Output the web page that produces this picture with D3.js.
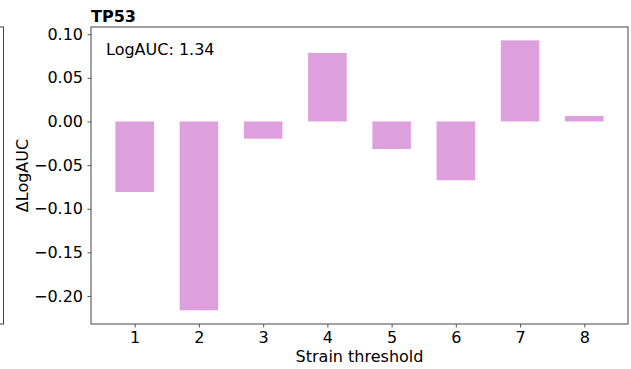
<!DOCTYPE html>
<html>
<head>
<meta charset="utf-8">
<script src="https://cdn.jsdelivr.net/npm/d3@7"></script>
<style>
  html, body { margin: 0; padding: 0; background: #fff; }
  svg { display: block; font-family: "DejaVu Sans", sans-serif; }
</style>
</head>
<body>
<svg id="chart" width="631" height="369"></svg>
<script>
// Change in LogAUC for each strain threshold (TP53)
const thresholds = [1, 2, 3, 4, 5, 6, 7, 8];
const deltaLogAUC = [-0.0808, -0.2164, -0.0197, 0.0785, -0.0315, -0.0674, 0.0930, 0.0063];
const yTicks = [-0.20, -0.15, -0.10, -0.05, 0.00, 0.05, 0.10];
const title = "TP53";
const annotation = "LogAUC: 1.34";

const svg = d3.select("#chart");
const plotLeft = 91, plotRight = 628, plotTop = 27, plotBottom = 324;
const barWidth = 0.6;
const fontSize = 16;

const x = d3.scaleLinear().domain([0.32, 8.68]).range([plotLeft, plotRight]);
const y = d3.scaleLinear().domain([-0.2321, 0.1083]).range([plotBottom, plotTop]);

// edge of the neighbouring panel on the left
svg.append("rect")
  .attr("x", -10).attr("y", plotTop).attr("width", 13.5).attr("height", plotBottom - plotTop)
  .attr("fill", "none").attr("stroke", "#444").attr("stroke-width", 1);

// bars
svg.append("g").selectAll("rect")
  .data(thresholds.map((t, i) => ({ t, v: deltaLogAUC[i] })))
  .join("rect")
  .attr("x", d => x(d.t - barWidth / 2))
  .attr("width", d => x(d.t + barWidth / 2) - x(d.t - barWidth / 2))
  .attr("y", d => y(Math.max(0, d.v)))
  .attr("height", d => Math.abs(y(d.v) - y(0)))
  .attr("fill", "#dda0dd");

// axes
const xAxis = svg.append("g")
  .attr("transform", `translate(0,${plotBottom})`)
  .call(d3.axisBottom(x).tickValues(thresholds).tickFormat(d3.format("d")).tickSize(3.5).tickPadding(4));
const yAxis = svg.append("g")
  .attr("transform", `translate(${plotLeft},0)`)
  .call(d3.axisLeft(y).tickValues(yTicks).tickFormat(d3.format(".2f")).tickSize(3.5).tickPadding(4.5));

[xAxis, yAxis].forEach(g => {
  g.select(".domain").remove();
  g.attr("font-size", fontSize).attr("font-family", "DejaVu Sans, sans-serif");
  g.selectAll("line").attr("stroke", "#444").attr("stroke-width", 0.9);
  g.selectAll("text").attr("fill", "#000");
});
xAxis.selectAll("text").attr("dy", "0.72em").attr("y", 7.5);

// frame
svg.append("rect")
  .attr("x", plotLeft).attr("y", plotTop).attr("width", plotRight - plotLeft).attr("height", plotBottom - plotTop)
  .attr("fill", "none").attr("stroke", "#444").attr("stroke-width", 1);

// labels
svg.append("text")
  .attr("x", (plotLeft + plotRight) / 2).attr("y", 362)
  .attr("text-anchor", "middle").attr("font-size", fontSize)
  .text("Strain threshold");

svg.append("text")
  .attr("transform", `translate(28,${(plotTop + plotBottom) / 2}) rotate(-90)`)
  .attr("text-anchor", "middle").attr("font-size", fontSize)
  .text("ΔLogAUC");

svg.append("text")
  .attr("x", plotLeft).attr("y", 22)
  .attr("font-size", fontSize).attr("font-weight", "bold")
  .text(title);

svg.append("text")
  .attr("x", 106).attr("y", 55)
  .attr("font-size", fontSize)
  .text(annotation);
</script>
</body>
</html>
